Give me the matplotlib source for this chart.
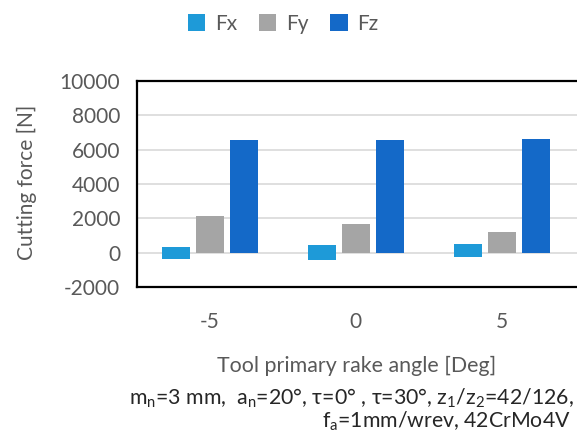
import matplotlib.pyplot as plt
import numpy as np

# data
angles = ['-5', '0', '5']
fx_low = [-350, -430, -280]     # Fx bars float across zero
fx_high = [350, 450, 510]
fy = [2120, 1670, 1220]
fz = [6570, 6570, 6630]
y_ticks = [-2000, 0, 2000, 4000, 6000, 8000, 10000]

plt.rcParams['font.family'] = ['Lato', 'DejaVu Sans']
plt.rcParams['mathtext.default'] = 'regular'
plt.rcParams['axes.unicode_minus'] = False

c_fx = '#1E9AD8'
c_fy = '#A5A5A5'
c_fz = '#1469C8'
grey = '#595959'
fs = 15

fig = plt.figure(figsize=(5.77, 4.46), dpi=100)
ax = fig.add_axes([137 / 577, 159 / 446, 440 / 577, 206 / 446])

x = np.arange(len(angles))
w = 0.19
step = 0.233
fx_h = np.array(fx_high) - np.array(fx_low)
ax.bar(x - step, fx_h, w, bottom=fx_low, color=c_fx, label='Fx', zorder=3)
ax.bar(x, fy, w, color=c_fy, label='Fy', zorder=3)
ax.bar(x + step, fz, w, color=c_fz, label='Fz', zorder=3)

ax.set_xlim(-0.5, 2.515)
ax.set_ylim(-2000, 10000)
ax.set_yticks(y_ticks)
ax.set_xticks(x)
ax.set_xticklabels(angles)
ax.yaxis.grid(True, color='#D9D9D9', linewidth=1.2, zorder=0)
ax.tick_params(axis='both', length=0, labelsize=fs, labelcolor=grey)
ax.tick_params(axis='x', pad=18)
ax.tick_params(axis='y', pad=12)
for s in ax.spines.values():
    s.set_color('black')
    s.set_linewidth(1.6)
ax.spines['right'].set_visible(False)

fig.text(27 / 577, 1 - 182 / 446, 'Cutting force [N]', rotation=90,
         ha='center', va='center', fontsize=fs, color=grey)
fig.text(357 / 577, 1 - 366 / 446, 'Tool primary rake angle [Deg]',
         ha='center', va='center', fontsize=15.4, color=grey)
fig.text(574 / 577, 1 - 398 / 446,
         r'm$_n$=3 mm,  a$_n$=20$\degree$, τ=0$\degree$ , τ=30$\degree$, z$_1$/z$_2$=42/126,',
         ha='right', va='center', fontsize=15.3, color='#262626')
fig.text(571 / 577, 1 - 421 / 446, r'f$_a$=1mm/wrev, 42CrMo4V',
         ha='right', va='center', fontsize=15.3, color='#262626')

fig.legend(loc='center', bbox_to_anchor=(283 / 577, 1 - 24 / 446), ncol=3,
           frameon=False, fontsize=fs, labelcolor=grey, handlelength=0.85,
           handleheight=0.85, columnspacing=1.05, handletextpad=0.45)

fig.savefig('out.png', dpi=100)
